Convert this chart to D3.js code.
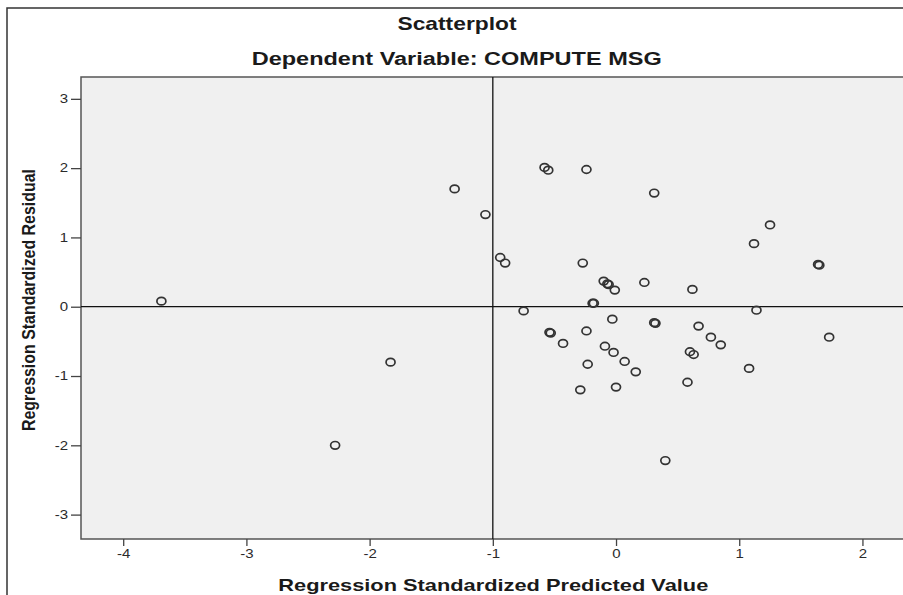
<!DOCTYPE html>
<html>
<head>
<meta charset="utf-8">
<script src="https://cdn.jsdelivr.net/npm/d3@7"></script>
<style>
  body { margin: 0; background: #fff; }
  text { font-family: "Liberation Sans", Arial, sans-serif; }
</style>
</head>
<body>
<div id="chart"></div>
<script>
// regression standardized predicted value / residual
var predicted = [-3.69, -2.28, -1.83, -1.31, -1.06, -0.94, -0.90, -0.75, -0.58, -0.55,
  -0.54, -0.53, -0.43, -0.24, -0.27, -0.24, -0.23, -0.29, -0.19, -0.18,
  -0.10, -0.07, -0.06, -0.01, -0.03, -0.09, -0.02, 0.07, 0.16, 0.00,
  0.23, 0.31, 0.31, 0.32, 0.40, 0.62, 0.67, 0.60, 0.63, 0.77,
  0.85, 0.58, 1.08, 1.12, 1.14, 1.25, 1.65, 1.64, 1.73];
var residual = [0.08, -2.00, -0.80, 1.70, 1.33, 0.71, 0.63, -0.06, 2.01, 1.97,
  -0.37, -0.38, -0.53, 1.98, 0.63, -0.35, -0.83, -1.20, 0.05, 0.05,
  0.37, 0.33, 0.32, 0.24, -0.18, -0.57, -0.66, -0.79, -0.94, -1.16,
  0.35, 1.64, -0.23, -0.24, -2.22, 0.25, -0.28, -0.65, -0.69, -0.44,
  -0.55, -1.09, -0.89, 0.91, -0.05, 1.18, 0.60, 0.61, -0.44];
var xTicks = [-4, -3, -2, -1, 0, 1, 2];
var yTicks = [-3, -2, -1, 0, 1, 2, 3];
var xRef = -1, yRef = 0;

var title = "Scatterplot";
var subtitle = "Dependent Variable: COMPUTE MSG";
var xLabel = "Regression Standardized Predicted Value";
var yLabel = "Regression Standardized Residual";

var width = 903, height = 595;
var plot = {left: 81, top: 77, right: 910, bottom: 539};

var svg = d3.select("#chart")
  .append("svg")
    .attr("width", width)
    .attr("height", height);

// the picture is a bit wider than tall, so stretch horizontal text
function stretch(sel, k) {
  sel.each(function() {
    var w = this.getComputedTextLength();
    d3.select(this)
      .attr("textLength", w * k)
      .attr("lengthAdjust", "spacingAndGlyphs");
  });
}

// outer frame
svg.append("path")
  .attr("d", "M7,595 V8 H903")
  .style("fill", "none")
  .style("stroke", "#333")
  .style("stroke-width", 1.5);

var x = d3.scaleLinear()
  .domain([-4.3425, 2.386])
  .range([plot.left, plot.right]);

var y = d3.scaleLinear()
  .domain([-3.352, 3.315])
  .range([plot.bottom, plot.top]);

// plot background
svg.append("rect")
  .attr("x", plot.left)
  .attr("y", plot.top)
  .attr("width", plot.right - plot.left)
  .attr("height", plot.bottom - plot.top)
  .style("fill", "#f0f0f0")
  .style("stroke", "#555")
  .style("stroke-width", 1.5);

// axes (plain hyphen for negatives, like SPSS)
var fmt = function(d) { return String(d); };
var xAxis = svg.append("g")
  .attr("transform", "translate(0," + plot.bottom + ")")
  .call(d3.axisBottom(x).tickValues(xTicks).tickFormat(fmt).tickSize(7).tickPadding(3));
var yAxis = svg.append("g")
  .attr("transform", "translate(" + plot.left + ",0)")
  .call(d3.axisLeft(y).tickValues(yTicks).tickFormat(fmt).tickSize(10).tickPadding(3));

[xAxis, yAxis].forEach(function(a) {
  a.select(".domain").remove();
  a.selectAll(".tick line").style("stroke", "#444").style("stroke-width", 1.3);
  a.selectAll(".tick text")
    .style("font-size", "12px")
    .style("fill", "#2a2a2a")
    .call(stretch, 1.25);
});

// reference lines
svg.append("line")
  .attr("x1", x(xRef)).attr("x2", x(xRef))
  .attr("y1", plot.top).attr("y2", plot.bottom)
  .style("stroke", "#111").style("stroke-width", 1.3);
svg.append("line")
  .attr("x1", plot.left).attr("x2", plot.right)
  .attr("y1", y(yRef)).attr("y2", y(yRef))
  .style("stroke", "#111").style("stroke-width", 1.3);

// points
svg.append("g")
  .selectAll("ellipse")
  .data(predicted.map(function(p, i) { return {p: p, r: residual[i]}; }))
  .enter()
  .append("ellipse")
    .attr("cx", function(d) { return x(d.p); })
    .attr("cy", function(d) { return y(d.r); })
    .attr("rx", 4.5)
    .attr("ry", 3.8)
    .style("fill", "none")
    .style("stroke", "#333")
    .style("stroke-width", 1.7);

// titles
svg.append("text")
  .attr("x", 457).attr("y", 30)
  .attr("text-anchor", "middle")
  .attr("textLength", 119).attr("lengthAdjust", "spacingAndGlyphs")
  .style("font-size", "19px").style("font-weight", "bold").style("fill", "#1a1a1a")
  .text(title);

svg.append("text")
  .attr("x", 456.7).attr("y", 65)
  .attr("text-anchor", "middle")
  .attr("textLength", 410).attr("lengthAdjust", "spacingAndGlyphs")
  .style("font-size", "18px").style("font-weight", "bold").style("fill", "#1a1a1a")
  .text(subtitle);

svg.append("text")
  .attr("x", 493.3).attr("y", 590.5)
  .attr("text-anchor", "middle")
  .attr("textLength", 430).attr("lengthAdjust", "spacingAndGlyphs")
  .style("font-size", "17px").style("font-weight", "bold").style("fill", "#1a1a1a")
  .text(xLabel);

svg.append("text")
  .attr("transform", "translate(35,300) rotate(-90)")
  .attr("text-anchor", "middle")
  .attr("textLength", 262).attr("lengthAdjust", "spacingAndGlyphs")
  .style("font-size", "17.5px").style("font-weight", "bold").style("fill", "#1a1a1a")
  .text(yLabel);
</script>
</body>
</html>
